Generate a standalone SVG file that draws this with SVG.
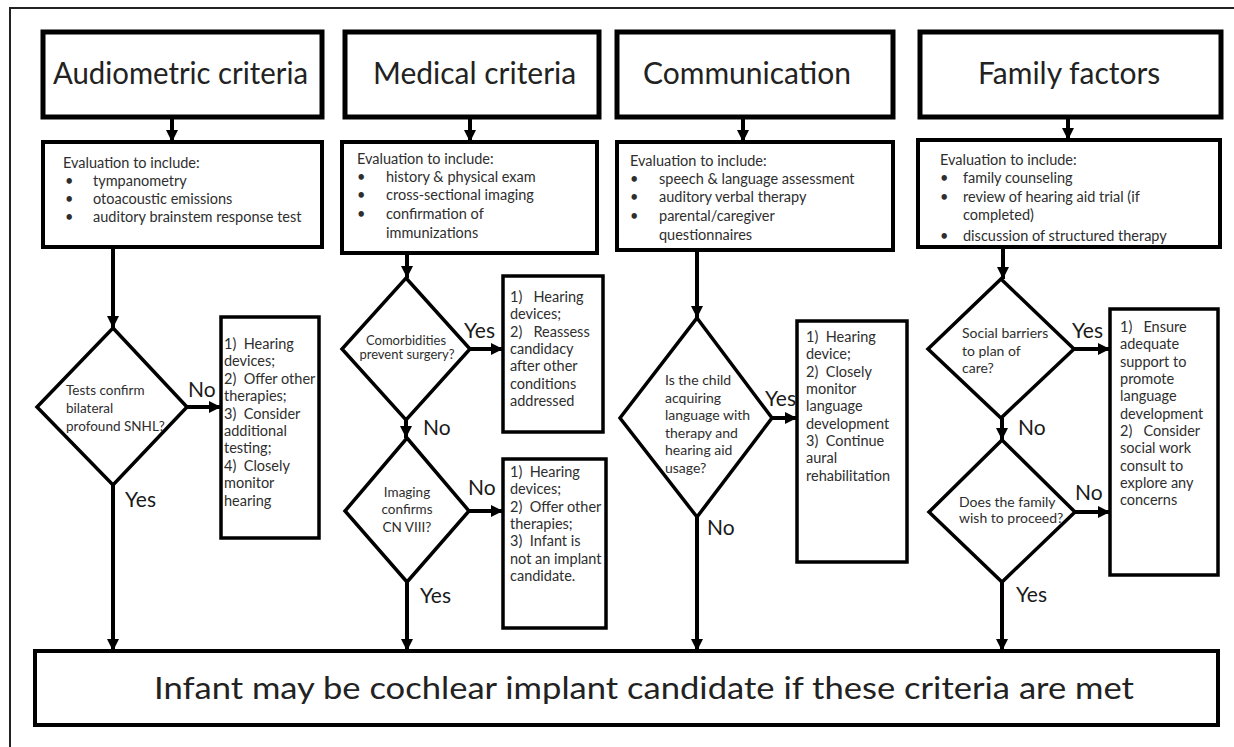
<svg xmlns="http://www.w3.org/2000/svg" width="1234" height="747" viewBox="0 0 1234 747">
<defs>
<marker id="ah" viewBox="0 0 12 12" refX="12" refY="6" markerWidth="12" markerHeight="12" markerUnits="userSpaceOnUse" orient="auto">
<path d="M0,0 L12,6 L0,12 z" fill="#000"/>
</marker>
</defs>
<style>
text{font-family:Lato,"Open Sans",sans-serif;fill:#2e2e2e;white-space:pre}
.hdr{fill:#fff;stroke:#000;stroke-width:5}
.eval{fill:#fff;stroke:#000;stroke-width:4}
.side{fill:#fff;stroke:#000;stroke-width:3.5}
.dia{fill:#fff;stroke:#000;stroke-width:3.5;stroke-linejoin:miter}
.ht{font-size:30px;fill:#222}
.et{font-size:14.5px}
.st{font-size:14.5px}
.dt{font-size:14px}
.lbl{font-size:21px;fill:#1a1a1a}
.c{stroke:#000;stroke-width:4;fill:none;marker-end:url(#ah)}
</style>
<rect width="1234" height="747" fill="#fff"/>
<path d="M10,747 V8 H1234" fill="none" stroke="#222" stroke-width="2"/>

<g id="connectors">
<line class="c" x1="172" y1="119" x2="172" y2="142"/>
<line class="c" x1="470" y1="119" x2="470" y2="142"/>
<line class="c" x1="743" y1="119" x2="743" y2="142"/>
<line class="c" x1="1068" y1="119" x2="1068" y2="140"/>
<line class="c" x1="113" y1="249" x2="113" y2="328"/>
<line class="c" x1="187" y1="407" x2="221" y2="407"/>
<line class="c" x1="113" y1="485" x2="113" y2="651"/>
<line class="c" x1="407" y1="254" x2="407" y2="278"/>
<line class="c" x1="470" y1="349" x2="503" y2="349"/>
<line class="c" x1="406" y1="420" x2="406" y2="438"/>
<line class="c" x1="469" y1="511" x2="503" y2="511"/>
<line class="c" x1="407" y1="582" x2="407" y2="651"/>
<line class="c" x1="697" y1="251" x2="697" y2="318"/>
<line class="c" x1="772" y1="418" x2="797" y2="418"/>
<line class="c" x1="697" y1="517" x2="697" y2="651"/>
<line class="c" x1="1003" y1="248" x2="1003" y2="279"/>
<line class="c" x1="1074" y1="349" x2="1110" y2="349"/>
<line class="c" x1="1002" y1="418" x2="1002" y2="440"/>
<line class="c" x1="1075" y1="512" x2="1110" y2="512"/>
<line class="c" x1="1002" y1="582" x2="1002" y2="651"/>
</g>

<g id="labels">
<text class="lbl" x="188" y="397">No</text>
<text class="lbl" x="125" y="507">Yes</text>
<text class="lbl" x="464" y="338">Yes</text>
<text class="lbl" x="423" y="435">No</text>
<text class="lbl" x="468" y="495">No</text>
<text class="lbl" x="420" y="603">Yes</text>
<text class="lbl" x="765" y="406">Yes</text>
<text class="lbl" x="707" y="535">No</text>
<text class="lbl" x="1072" y="338">Yes</text>
<text class="lbl" x="1018" y="435">No</text>
<text class="lbl" x="1075" y="500">No</text>
<text class="lbl" x="1016" y="602">Yes</text>
</g>

<g id="hdr-audiometric">
<rect class="hdr" x="43" y="32" width="279" height="85"/>
<text class="ht" x="53" y="84" textLength="255" lengthAdjust="spacingAndGlyphs">Audiometric criteria</text>
</g>
<g id="hdr-medical">
<rect class="hdr" x="345" y="32" width="254" height="85"/>
<text class="ht" x="373" y="84">Medical criteria</text>
</g>
<g id="hdr-communication">
<rect class="hdr" x="617" y="32" width="276" height="85"/>
<text class="ht" x="643" y="84">Communication</text>
</g>
<g id="hdr-family">
<rect class="hdr" x="920" y="32" width="301" height="85"/>
<text class="ht" x="978" y="84">Family factors</text>
</g>

<g id="eval-audiometric">
<rect class="eval" x="43" y="142" width="279" height="105"/>
<text class="et" x="63" y="168">Evaluation to include:</text>
<text class="et" x="65" y="186">•</text><text class="et" x="93" y="186">tympanometry</text>
<text class="et" x="65" y="204">•</text><text class="et" x="93" y="204">otoacoustic emissions</text>
<text class="et" x="65" y="222">•</text><text class="et" x="93" y="222">auditory brainstem response test</text>
</g>
<g id="eval-medical">
<rect class="eval" x="342" y="142" width="255" height="111"/>
<text class="et" x="357" y="164">Evaluation to include:</text>
<text class="et" x="357" y="182">•</text><text class="et" x="386" y="182">history &amp; physical exam</text>
<text class="et" x="357" y="200">•</text><text class="et" x="386" y="200">cross-sectional imaging</text>
<text class="et" x="357" y="219">•</text><text class="et" x="386" y="219">confirmation of</text>
<text class="et" x="386" y="238">immunizations</text>
</g>
<g id="eval-communication">
<rect class="eval" x="617" y="142" width="276" height="108"/>
<text class="et" x="630" y="166">Evaluation to include:</text>
<text class="et" x="630" y="184">•</text><text class="et" x="659" y="184">speech &amp; language assessment</text>
<text class="et" x="630" y="202">•</text><text class="et" x="659" y="202">auditory verbal therapy</text>
<text class="et" x="630" y="221">•</text><text class="et" x="659" y="221">parental/caregiver</text>
<text class="et" x="659" y="240">questionnaires</text>
</g>
<g id="eval-family">
<rect class="eval" x="918" y="140" width="302" height="107"/>
<text class="et" x="940" y="165">Evaluation to include:</text>
<text class="et" x="940" y="183">•</text><text class="et" x="963" y="183">family counseling</text>
<text class="et" x="940" y="202">•</text><text class="et" x="963" y="202">review of hearing aid trial (if</text>
<text class="et" x="963" y="220">completed)</text>
<text class="et" x="940" y="241">•</text><text class="et" x="963" y="241">discussion of structured therapy</text>
</g>

<g id="dec-snhl">
<polygon class="dia" points="113,328 187,407 113,485 37,407"/>
<text class="dt" x="66" y="395" style="font-size:13.5px">Tests confirm</text>
<text class="dt" x="66" y="413" style="font-size:13.5px">bilateral</text>
<text class="dt" x="66" y="431" style="font-size:13.5px">profound SNHL?</text>
</g>
<g id="out-audiometric">
<rect class="side" x="221" y="317" width="98" height="221"/>
<text class="st" x="224" y="349">1)  Hearing</text>
<text class="st" x="224" y="366">devices;</text>
<text class="st" x="224" y="384">2)  Offer other</text>
<text class="st" x="224" y="401">therapies;</text>
<text class="st" x="224" y="419">3)  Consider</text>
<text class="st" x="224" y="436">additional</text>
<text class="st" x="224" y="453">testing;</text>
<text class="st" x="224" y="471">4)  Closely</text>
<text class="st" x="224" y="488">monitor</text>
<text class="st" x="224" y="506">hearing</text>
</g>

<g id="dec-comorbid">
<polygon class="dia" points="406,278 470,349 406,420 342,349"/>
<text class="dt" x="406" y="345" text-anchor="middle" style="font-size:13px">Comorbidities</text>
<text class="dt" x="407" y="359" text-anchor="middle" style="font-size:13px">prevent surgery?</text>
</g>
<g id="out-comorbid">
<rect class="side" x="503" y="276" width="100" height="156"/>
<text class="st" x="510" y="302">1)   Hearing</text>
<text class="st" x="510" y="319">devices;</text>
<text class="st" x="510" y="337">2)   Reassess</text>
<text class="st" x="510" y="354">candidacy</text>
<text class="st" x="510" y="371">after other</text>
<text class="st" x="510" y="389">conditions</text>
<text class="st" x="510" y="406">addressed</text>
</g>
<g id="dec-imaging">
<polygon class="dia" points="407,438 469,511 407,582 345,511"/>
<text class="dt" x="407" y="497" text-anchor="middle" style="font-size:13.5px">Imaging</text>
<text class="dt" x="407" y="514" text-anchor="middle" style="font-size:13.5px">confirms</text>
<text class="dt" x="407" y="532" text-anchor="middle" style="font-size:13.5px">CN VIII?</text>
</g>
<g id="out-imaging">
<rect class="side" x="503" y="459" width="103" height="169"/>
<text class="st" x="510" y="477">1)  Hearing</text>
<text class="st" x="510" y="494">devices;</text>
<text class="st" x="510" y="512">2)  Offer other</text>
<text class="st" x="510" y="529">therapies;</text>
<text class="st" x="510" y="546">3)  Infant is</text>
<text class="st" x="510" y="564">not an implant</text>
<text class="st" x="510" y="581">candidate.</text>
</g>

<g id="dec-language">
<polygon class="dia" points="697,318 772,418 697,517 620,418"/>
<text class="dt" x="665" y="385">Is the child</text>
<text class="dt" x="665" y="403">acquiring</text>
<text class="dt" x="665" y="420">language with</text>
<text class="dt" x="665" y="438">therapy and</text>
<text class="dt" x="665" y="455">hearing aid</text>
<text class="dt" x="665" y="473">usage?</text>
</g>
<g id="out-language">
<rect class="side" x="797" y="321" width="110" height="241"/>
<text class="st" x="806" y="342">1)  Hearing</text>
<text class="st" x="806" y="359">device;</text>
<text class="st" x="806" y="377">2)  Closely</text>
<text class="st" x="806" y="394">monitor</text>
<text class="st" x="806" y="411">language</text>
<text class="st" x="806" y="429">development</text>
<text class="st" x="806" y="446">3)  Continue</text>
<text class="st" x="806" y="463">aural</text>
<text class="st" x="806" y="481">rehabilitation</text>
</g>

<g id="dec-social">
<polygon class="dia" points="1001,279 1074,349 1001,418 928,349"/>
<text class="dt" x="962" y="338">Social barriers</text>
<text class="dt" x="962" y="356">to plan of</text>
<text class="dt" x="962" y="373">care?</text>
</g>
<g id="dec-proceed">
<polygon class="dia" points="1002,440 1075,512 1002,582 929,512"/>
<text class="dt" x="959" y="507">Does the family</text>
<text class="dt" x="959" y="523">wish to proceed?</text>
</g>
<g id="out-family">
<rect class="side" x="1110" y="309" width="108" height="266"/>
<text class="st" x="1120" y="332">1)   Ensure</text>
<text class="st" x="1120" y="349">adequate</text>
<text class="st" x="1120" y="367">support to</text>
<text class="st" x="1120" y="384">promote</text>
<text class="st" x="1120" y="401">language</text>
<text class="st" x="1120" y="419">development</text>
<text class="st" x="1120" y="436">2)   Consider</text>
<text class="st" x="1120" y="453">social work</text>
<text class="st" x="1120" y="471">consult to</text>
<text class="st" x="1120" y="488">explore any</text>
<text class="st" x="1120" y="505">concerns</text>
</g>

<g id="result">
<rect class="eval" x="35" y="651" width="1183" height="74"/>
<text x="154" y="699" style="font-size:30px;fill:#222" textLength="980" lengthAdjust="spacingAndGlyphs">Infant may be cochlear implant candidate if these criteria are met</text>
</g>
</svg>
